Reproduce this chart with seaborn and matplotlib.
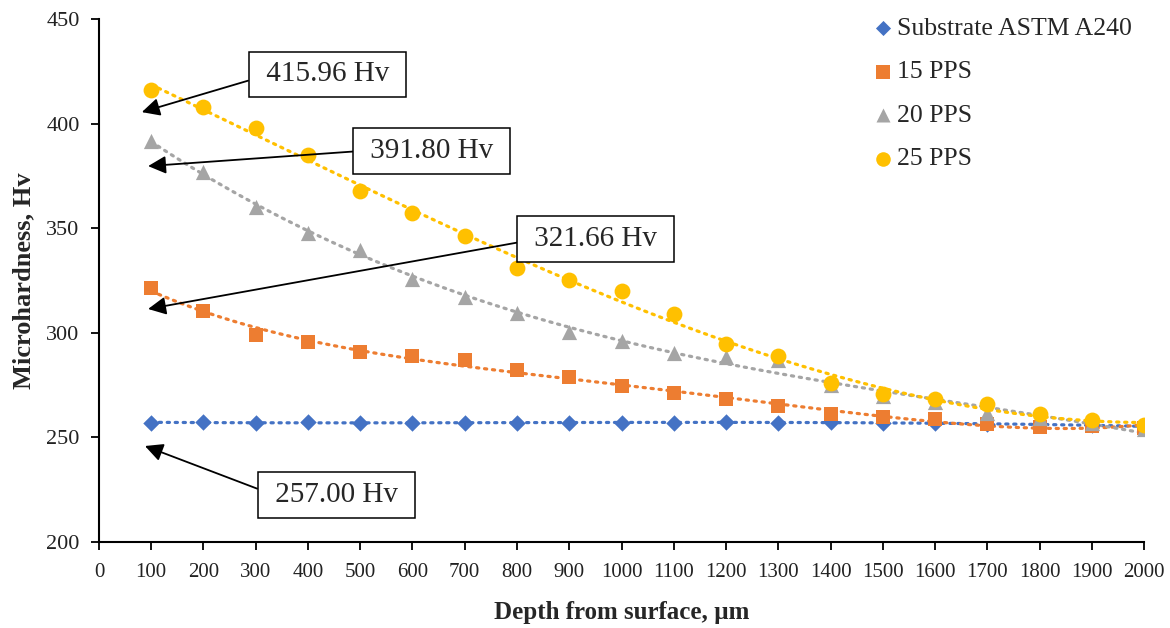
import matplotlib
matplotlib.use("Agg")
import matplotlib.pyplot as plt
import seaborn as sns

depth = [100, 200, 300, 400, 500, 600, 700, 800, 900, 1000,
         1100, 1200, 1300, 1400, 1500, 1600, 1700, 1800, 1900, 2000]

substrate = [257.0, 257.2, 257.1, 257.2, 257.0, 257.0, 257.0, 257.0, 257.0, 257.1,
             257.1, 257.2, 257.1, 257.2, 257.0, 256.8, 256.6, 256.2, 255.8, 255.2]
pps15 = [321.66, 310.4, 299.0, 295.4, 290.8, 289.0, 287.0, 282.0, 278.8, 274.6,
         271.0, 268.6, 265.0, 261.0, 259.7, 259.0, 256.4, 255.2, 255.6, 254.5]
pps20 = [391.80, 377.0, 360.0, 347.5, 339.6, 325.7, 317.3, 309.6, 300.4, 296.3,
         290.5, 288.6, 287.2, 275.0, 269.8, 266.8, 261.5, 259.5, 257.0, 254.0]
pps25 = [415.96, 408.0, 398.0, 385.0, 367.8, 357.2, 346.4, 331.0, 325.4, 320.0,
         309.0, 294.6, 288.8, 276.2, 270.6, 268.2, 266.2, 261.0, 258.2, 256.0]

series_names = ["Substrate ASTM A240", "15 PPS", "20 PPS", "25 PPS"]
series_values = [substrate, pps15, pps20, pps25]
colors = ["#4472C4", "#ED7D31", "#A5A5A5", "#FFC000"]
markers = ["D", "s", "^", "o"]
sizes = [70, 110, 120, 130]
trend_order = [3, 4, 3, 3]

callouts = ["415.96 Hv", "391.80 Hv", "321.66 Hv", "257.00 Hv"]

sns.set_style("white")
plt.rcParams["font.family"] = ["Liberation Serif", "DejaVu Serif"]

fig = plt.figure(figsize=(11.7, 6.28), dpi=100)
ax = fig.add_axes([0.0846, 0.1369, 0.8932, 0.8328])

for i, (name, vals) in enumerate(zip(series_names, series_values)):
    # polynomial trendline like the spreadsheet one
    sns.regplot(x=depth, y=vals, order=trend_order[i], ci=None, scatter=False, ax=ax,
                truncate=True,
                line_kws=dict(color=colors[i], lw=2.3, linestyle=(0, (0.7, 1.8)),
                              dash_capstyle="round", zorder=2 + i))
for i, (name, vals) in enumerate(zip(series_names, series_values)):
    sns.scatterplot(x=depth, y=vals, ax=ax, color=colors[i], marker=markers[i],
                    s=sizes[i], linewidth=0, label=name, zorder=6 + i)

ax.set_xlim(0, 2000)
ax.set_ylim(200, 450)
ax.set_xticks(range(0, 2001, 100))
ax.set_yticks(range(200, 451, 50))
ax.tick_params(axis="both", bottom=True, left=True, labelsize=15, direction="out",
               length=6, width=1.3, colors="black", pad=9)
ax.tick_params(axis="y", labelsize=16, pad=8)
for lab in ax.get_xticklabels() + ax.get_yticklabels():
    lab.set_color("#222222")
for s in ["top", "right"]:
    ax.spines[s].set_visible(False)
for s in ["left", "bottom"]:
    ax.spines[s].set_color("black")
    ax.spines[s].set_linewidth(1.5)

ax.set_xlabel("Depth from surface, µm", fontsize=18, fontweight="bold", labelpad=14)
ax.set_ylabel("Microhardness, Hv", fontsize=19, fontweight="bold", labelpad=8)

leg = ax.legend(loc="upper left", bbox_to_anchor=(862 / 1170, 1 - 4 / 628),
                bbox_transform=fig.transFigure, frameon=False, fontsize=18.5,
                handlelength=0.6, handletextpad=0.25, labelspacing=0.8,
                borderpad=0, markerscale=0.92)

# callout boxes with arrows
tips = [(82, 405.5), (94, 379.7), (94, 311.4), (88, 245.9)]
boxes = [(437, 423.5), (637, 387.0), (951, 345.0), (454, 222.5)]
rel = [(0, 0.38), (0, 0.5), (0, 0.42), (0, 0.59)]
for txt, tip, pos, rp in zip(callouts, tips, boxes, rel):
    ax.annotate(" " + txt + " ", xy=tip, xytext=pos, fontsize=21,
                ha="center", va="center", zorder=20,
                bbox=dict(boxstyle="square,pad=0.34", fc="white", ec="black", lw=1.1),
                arrowprops=dict(arrowstyle="-|>,head_length=0.6,head_width=0.3",
                                mutation_scale=18, color="black", lw=1.3,
                                relpos=rp, shrinkA=0, shrinkB=0))

fig.savefig("out.png", dpi=100)
